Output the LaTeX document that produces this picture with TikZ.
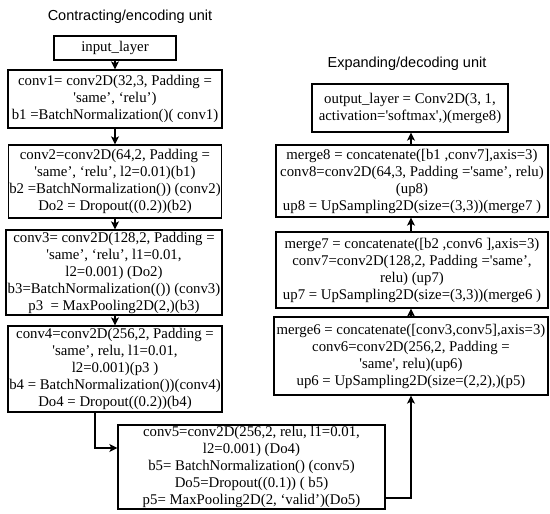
\documentclass[tikz,border=0pt]{standalone}
\usepackage{fontspec}
\setmainfont{Liberation Serif}
\newfontfamily\titlefont{Liberation Sans}
\usetikzlibrary{arrows.meta}
\newcommand\sq{\textquotesingle}
\begin{document}
\begin{tikzpicture}[x=1pt,y=-1pt,
  box/.style={draw, line width=1.3pt, align=center, inner sep=1pt,
    font=\fontsize{14.8}{17}\selectfont},
  ttl/.style={font=\titlefont\fontsize{14.5}{17}\selectfont},
  arr/.style={line width=1.2pt, -{Stealth[length=8pt,width=8pt,inset=2pt]}}]
\useasboundingbox (0,0) rectangle (550,514);
\node[ttl] (t1) at (130,17) {Contracting/encoding unit};
\node[ttl] (t2) at (407,64) {Expanding/decoding unit};
\node[box, minimum width=122pt, minimum height=24pt] (inp) at (115,48) {input\_layer};
\node[box, minimum width=214pt, minimum height=58pt] (c1) at (115,99)
  {conv1= conv2D(32,3, Padding =\\ \sq same’, ‘relu’)\\ b1 =BatchNormalization()( conv1)};
\node[box, minimum width=212pt, minimum height=73pt] (c2) at (115,181.5)
  {conv2=conv2D(64,2, Padding =\\ \sq same’, ‘relu’, l2=0.01)(b1)\\ b2 =BatchNormalization()) (conv2)\\ Do2 = Dropout((0.2))(b2)};
\node[box, minimum width=216pt, minimum height=85pt] (c3) at (114,272.5)
  {conv3= conv2D(128,2, Padding =\\ \sq same’, ‘relu’, l1=0.01,\\ l2=0.001) (Do2)\\ b3=BatchNormalization(()) (conv3)\\ p3\ \ = MaxPooling2D(2,)(b3)};
\node[box, minimum width=214pt, minimum height=86pt] (c4) at (115,369)
  {conv4=conv2D(256,2, Padding =\\ \sq same’, relu, l1=0.01,\\ l2=0.001)(p3 )\\ b4 = BatchNormalization())(conv4)\\ Do4 = Dropout((0.2))(b4)};
\node[box, minimum width=267pt, minimum height=84pt] (c5) at (251.5,467)
  {conv5=conv2D(256,2, relu, l1=0.01,\\ l2=0.001) (Do4)\\ b5= BatchNormalization() (conv5)\\ Do5=Dropout((0.1)) ( b5)\\ p5= MaxPooling2D(2, ‘valid’)(Do5)};
\node[box, minimum width=274pt, minimum height=78pt] (m6) at (411,356)
  {merge6 = concatenate([conv3,conv5],axis=3)\\ conv6=conv2D(256,2, Padding =\\ \sq same\sq, relu)(up6)\\ up6 = UpSampling2D(size=(2,2),)(p5)};
\node[box, minimum width=272pt, minimum height=76pt] (m7) at (412,270)
  {merge7 = concatenate([b2 ,conv6 ],axis=3)\\ conv7=conv2D(128,2, Padding =\sq same’,\\ relu) (up7)\\ up7 = UpSampling2D(size=(3,3))(merge6 )};
\node[box, minimum width=272pt, minimum height=72pt] (m8) at (412,181)
  {merge8 = concatenate([b1 ,conv7],axis=3)\\ conv8=conv2D(64,3, Padding =\sq same’, relu)\\ (up8)\\ up8 = UpSampling2D(size=(3,3))(merge7 )};
\node[box, minimum width=196pt, minimum height=48pt] (out) at (410,108)
  {output\_layer = Conv2D(3, 1,\\ activation=\sq softmax\sq,)(merge8)};
\coordinate (k1) at (95,448);
\coordinate (k2) at (411,498);
\draw[arr] (inp.south) -- (c1.north);
\draw[arr] (c1.south) -- (c2.north);
\draw[arr] (c2.south) -- (c3.north -| c2.south);
\draw[arr] (c3.south -| c2.south) -- (c4.north);
\draw[arr] (c4.south -| k1) -- (k1) -- (c5.west |- k1);
\draw[arr] (c5.east |- k2) -- (k2) -- (m6.south -| k2);
\draw[arr] (m6.north -| k2) -- (m7.south -| k2);
\draw[arr] (m7.north -| k2) -- (m8.south -| k2);
\draw[arr] (m8.north -| k2) -- (out.south -| k2);
\end{tikzpicture}
\end{document}
